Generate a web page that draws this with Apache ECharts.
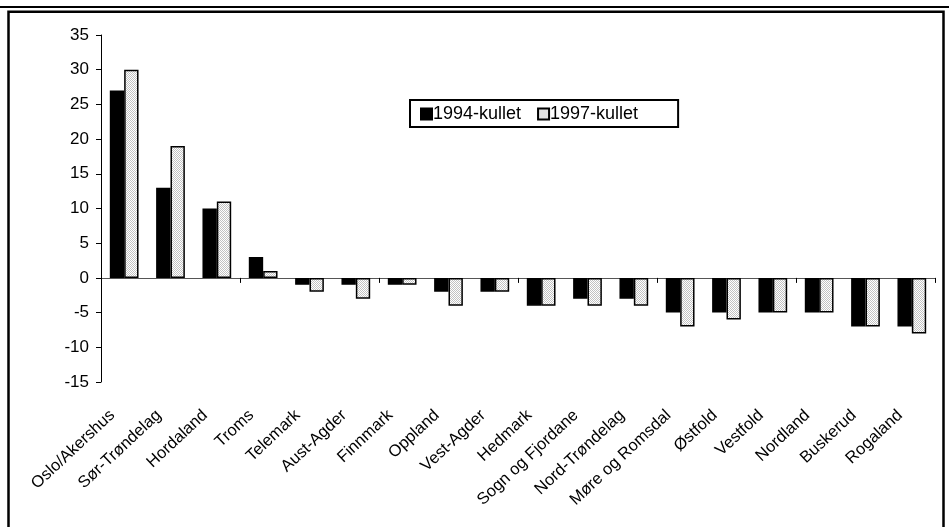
<!DOCTYPE html>
<html>
<head>
<meta charset="utf-8">
<script src="https://cdn.jsdelivr.net/npm/echarts@6/dist/echarts.min.js"></script>
<style>
html,body{margin:0;padding:0;background:#fff;}
#chart{width:949px;height:527px;}
</style>
</head>
<body>
<div id="chart"></div>
<script>
const categories = ['Oslo/Akershus','Sør-Trøndelag','Hordaland','Troms','Telemark','Aust-Agder','Finnmark','Oppland','Vest-Agder','Hedmark','Sogn og Fjordane','Nord-Trøndelag','Møre og Romsdal','Østfold','Vestfold','Nordland','Buskerud','Rogaland'];
const seriesNames = ['1994-kullet','1997-kullet'];
const values1994 = [27,13,10,3,-1,-1,-1,-2,-2,-4,-3,-3,-5,-5,-5,-5,-7,-7];
const values1997 = [30,19,11,1,-2,-3,-1,-4,-2,-4,-4,-4,-7,-6,-5,-5,-7,-8];
const yMin = -15, yMax = 35, yStep = 5;

const pc = document.createElement('canvas');
pc.width = 2; pc.height = 2;
const pctx = pc.getContext('2d');
pctx.fillStyle = '#ffffff'; pctx.fillRect(0,0,2,2);
pctx.fillStyle = '#c2c2c2'; pctx.fillRect(0,0,1,1); pctx.fillRect(1,1,1,1);
const hatch = {image: pc, repeat: 'repeat'};

const font = 'Liberation Sans, Arial, sans-serif';
const chart = echarts.init(document.getElementById('chart'), null, {renderer:'canvas'});
chart.setOption({
  animation: false,
  backgroundColor: '#fff',
  grid: {left: 101, right: 14, top: 35, bottom: 145, containLabel: false},
  legend: {
    left: 410, top: 100,
    orient: 'horizontal',
    data: seriesNames,
    icon: 'rect',
    itemWidth: 11, itemHeight: 11, itemGap: 16,
    padding: [5, 40, 4, 10],
    borderColor: '#000', borderWidth: 2,
    textStyle: {fontFamily: font, fontSize: 18, color: '#000', padding: [0,0,0,-4]}
  },
  xAxis: [{
    type: 'category', data: categories, position: 'bottom',
    axisLine: {onZero: true, lineStyle: {color: '#555', width: 1}},
    axisTick: {show: true, inside: false, length: 5, alignWithLabel: false, lineStyle: {color: '#000'}},
    axisLabel: {show: false},
    splitLine: {show: false}
  },{
    type: 'category', data: categories, position: 'bottom',
    axisLine: {show: false, onZero: false},
    axisTick: {show: false},
    axisLabel: {show: true, interval: 0, rotate: 43, margin: 20, padding: [0, 16, 0, 0],
      fontFamily: font, fontSize: 16.5, color: '#000'},
    splitLine: {show: false}
  }],
  yAxis: {
    type: 'value', min: yMin, max: yMax, interval: yStep,
    axisLine: {show: true, lineStyle: {color: '#000', width: 1}},
    axisTick: {show: true, length: 5, lineStyle: {color: '#000'}},
    axisLabel: {margin: 12, fontFamily: font, fontSize: 17, color: '#000'},
    splitLine: {show: false}
  },
  series: [{
    name: seriesNames[0], type: 'bar', xAxisIndex: 0, data: values1994,
    barWidth: '31%', barGap: '0%',
    itemStyle: {color: '#000', borderColor: '#000', borderWidth: 1.5}
  },{
    name: seriesNames[1], type: 'bar', xAxisIndex: 0, data: values1997,
    barWidth: '31%', barGap: '0%',
    itemStyle: {color: hatch, borderColor: '#000', borderWidth: 1.5}
  }],
  graphic: [
    {type: 'rect', shape: {x: 0, y: 6, width: 949, height: 2}, style: {fill: '#000'}, silent: true},
    {type: 'rect', shape: {x: 8.5, y: 11.8, width: 935, height: 530}, style: {fill: 'none', stroke: '#000', lineWidth: 2.5}, silent: true}
  ]
});
</script>
</body>
</html>
